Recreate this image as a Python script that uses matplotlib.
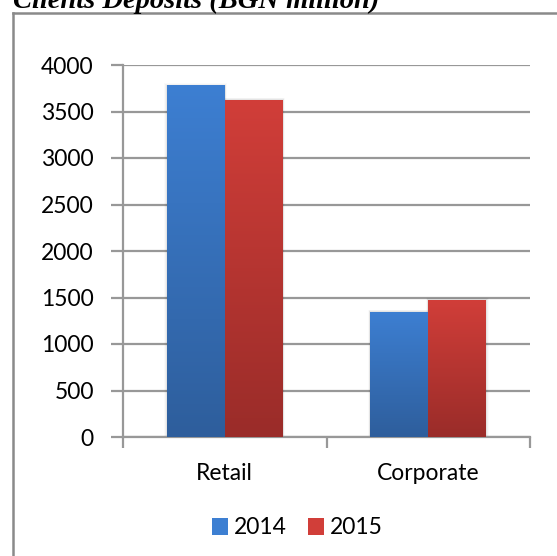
import numpy as np
import matplotlib
matplotlib.use("Agg")
import matplotlib.pyplot as plt
from matplotlib.colors import LinearSegmentedColormap
from matplotlib.patches import Rectangle
from matplotlib.lines import Line2D

categories = ["Retail", "Corporate"]
years = ["2014", "2015"]
values_2014 = [3780, 1345]
values_2015 = [3625, 1475]
y_ticks = [0, 500, 1000, 1500, 2000, 2500, 3000, 3500, 4000]
title = "Clients Deposits (BGN million)"

W, H = 557, 556
fig = plt.figure(figsize=(W / 100, H / 100), dpi=100)
fig.patch.set_facecolor("white")

ax = fig.add_axes([123 / W, 1 - 437 / H, (530 - 123) / W, (437 - 65) / H])

series = [values_2014, values_2015]
top_colors = ["#3D7FD2", "#D13E39"]
bot_colors = ["#2E5E9C", "#9A2C29"]
bw = 0.285
x = np.arange(len(categories))
offsets = [-bw / 2, bw / 2]

for s, vals in enumerate(series):
    bars = ax.bar(x + offsets[s], vals, width=bw, color=top_colors[s], zorder=3,
                  linewidth=0)
    cmap = LinearSegmentedColormap.from_list("g%d" % s, [bot_colors[s], top_colors[s]])
    grad = np.linspace(0, 1, 256).reshape(-1, 1)
    for b in bars:
        bx, by = b.get_x(), b.get_y()
        bwid, bh = b.get_width(), b.get_height()
        for k, a in enumerate([0.05, 0.035, 0.02]):
            sh = Rectangle((bx - 0.004 * (k + 1), by), bwid + 0.008 * (k + 1), bh + 8 * (k + 1),
                           facecolor="black", alpha=a, linewidth=0, zorder=2.5)
            ax.add_patch(sh)
        im = ax.imshow(grad, extent=[bx, bx + bwid, by, by + bh], origin="lower",
                       aspect="auto", cmap=cmap, zorder=3.5)
        im.set_clip_path(b)

ax.set_xlim(-0.5, 1.5)
ax.set_ylim(0, 4000)
ax.set_yticks(y_ticks)
ax.set_yticklabels([str(v) for v in y_ticks])
ax.set_xticks(x)
ax.set_xticklabels(categories)
ax.set_xticks([-0.5, 0.5, 1.5], minor=True)

grid_c = "#989898"
ax.yaxis.grid(True, color=grid_c, linewidth=1.6, zorder=1)
ax.set_axisbelow(True)
for side in ["top", "right"]:
    ax.spines[side].set_visible(False)
for side in ["left", "bottom"]:
    ax.spines[side].set_color(grid_c)
    ax.spines[side].set_linewidth(1.6)

font = "Lato"
fs = 16.5
ax.tick_params(axis="y", which="major", length=9, width=1.6, color=grid_c,
               labelsize=fs, pad=12)
ax.tick_params(axis="x", which="major", length=0, labelsize=fs, pad=19)
ax.tick_params(axis="x", which="minor", length=8, width=1.6, color=grid_c)
for lab in ax.get_xticklabels() + ax.get_yticklabels():
    lab.set_fontfamily(font)
    lab.set_color("black")

handles = [Rectangle((0, 0), 1, 1, facecolor=c, linewidth=0) for c in top_colors]
fig.legend(handles, years, loc="center", bbox_to_anchor=(297 / W, 1 - 528 / H),
           ncol=2, frameon=False, prop={"family": font, "size": fs},
           handlelength=0.7, handleheight=0.7, handletextpad=0.26, columnspacing=0.92,
           borderpad=0, borderaxespad=0)

fig.add_artist(Line2D([12.5 / W, 12.5 / W], [0, 1 - 13 / H], transform=fig.transFigure,
                      color="#8a8a8a", linewidth=1.8))
fig.add_artist(Line2D([12.5 / W, 1], [1 - 13 / H, 1 - 13 / H], transform=fig.transFigure,
                      color="#8a8a8a", linewidth=1.8))

fig.text(13 / W, 1 - 7.5 / H, title, ha="left", va="baseline",
         fontfamily="Liberation Serif", fontweight="bold", fontstyle="italic",
         fontsize=20.5)

fig.savefig("out.png", dpi=100)
